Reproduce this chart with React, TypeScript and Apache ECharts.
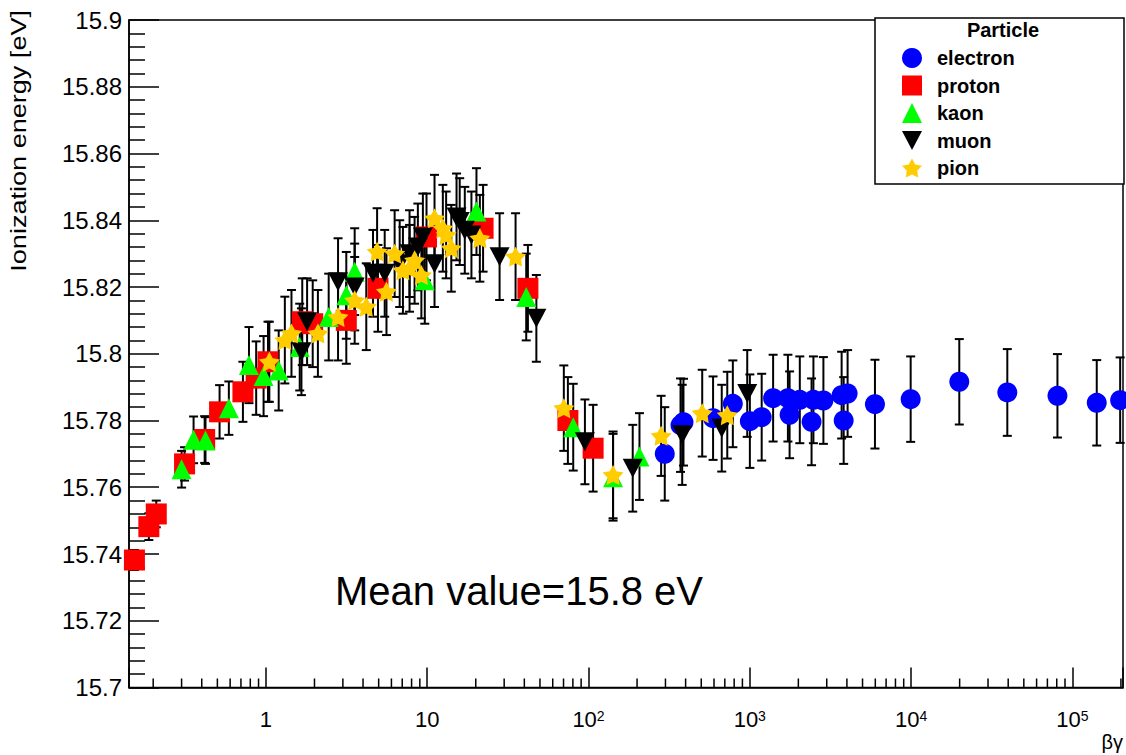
import React, { useEffect, useRef } from 'react';
import * as echarts from 'echarts';

const FONT = '"Liberation Sans", Arial, Helvetica, sans-serif';

// ---- data ----
const ELECTRON_X = [297, 372, 388, 592, 785, 1001, 1185, 1395, 1723, 1765, 2042, 2415, 2480, 2860, 3710, 3820, 4040, 5970, 9940, 19900, 39500, 80800, 141600, 197800];
const ELECTRON_Y = [15.77, 15.7786, 15.7795, 15.7807, 15.785, 15.7798, 15.781, 15.7867, 15.7867, 15.7817, 15.7862, 15.7796, 15.7862, 15.786, 15.7876, 15.78, 15.7881, 15.7849, 15.7864, 15.7916, 15.7884, 15.7874, 15.7853, 15.7861];
const ELECTRON_ERR = [0.014, 0.014, 0.013, 0.0125, 0.013, 0.014, 0.013, 0.013, 0.013, 0.013, 0.013, 0.013, 0.013, 0.013, 0.013, 0.013, 0.013, 0.0133, 0.0128, 0.0128, 0.013, 0.0125, 0.0128, 0.0128];

const PROTON_X = [0.153, 0.188, 0.209, 0.313, 0.417, 0.516, 0.72, 0.87, 1.03, 1.68, 1.95, 3.15, 4.95, 9.9, 22.2, 42.1, 74.5, 106.8];
const PROTON_Y = [15.7382, 15.7482, 15.752, 15.767, 15.7743, 15.7826, 15.7886, 15.7927, 15.7976, 15.8096, 15.809, 15.81, 15.8196, 15.835, 15.8376, 15.8196, 15.78, 15.7717];
const PROTON_ERR = [0.003, 0.004, 0.004, 0.005, 0.007, 0.008, 0.009, 0.011, 0.012, 0.013, 0.013, 0.013, 0.013, 0.013, 0.013, 0.013, 0.013, 0.013];

const KAON_X = [0.3, 0.356, 0.422, 0.589, 0.785, 0.967, 1.2, 1.62, 2.45, 3.15, 3.55, 9.66, 20.2, 41.1, 80.4, 142, 207];
const KAON_Y = [15.7654, 15.7742, 15.774, 15.7837, 15.7966, 15.7933, 15.795, 15.802, 15.811, 15.8175, 15.8246, 15.822, 15.8426, 15.817, 15.778, 15.763, 15.7692];
const KAON_ERR = [0.0055, 0.007, 0.007, 0.008, 0.0114, 0.012, 0.012, 0.013, 0.013, 0.013, 0.013, 0.013, 0.013, 0.013, 0.013, 0.013, 0.013];

const MUON_X = [1.66, 1.8, 2.8, 3.55, 4.61, 5.45, 6.75, 7.77, 8.75, 9.4, 11.1, 15.2, 15.9, 17.1, 18.8, 28.1, 47.5, 95, 188, 381, 670, 964];
const MUON_Y = [15.8006, 15.8096, 15.8216, 15.82, 15.8241, 15.8241, 15.827, 15.83, 15.832, 15.835, 15.827, 15.841, 15.8396, 15.837, 15.8356, 15.8291, 15.8106, 15.7736, 15.7657, 15.7757, 15.7777, 15.7881];
const MUON_ERR = [0.013, 0.013, 0.013, 0.013, 0.013, 0.013, 0.013, 0.013, 0.013, 0.013, 0.013, 0.013, 0.013, 0.013, 0.013, 0.013, 0.013, 0.0127, 0.013, 0.015, 0.013, 0.013];

const PION_X = [1.05, 1.31, 1.44, 2.1, 2.8, 3.55, 4.19, 4.89, 5.59, 6.28, 7.07, 7.77, 8.35, 9.2, 11.1, 12.5, 13.1, 14.1, 21.2, 35.3, 70.3, 142, 282, 507, 725];
const PION_Y = [15.7976, 15.8041, 15.8061, 15.8061, 15.811, 15.816, 15.8141, 15.8306, 15.8186, 15.83, 15.825, 15.8256, 15.828, 15.8236, 15.8406, 15.8376, 15.8356, 15.8316, 15.8346, 15.8291, 15.7837, 15.7637, 15.7754, 15.7822, 15.7816];
const PION_ERR = [0.012, 0.013, 0.013, 0.013, 0.013, 0.013, 0.013, 0.013, 0.013, 0.013, 0.013, 0.013, 0.013, 0.013, 0.013, 0.013, 0.013, 0.013, 0.013, 0.013, 0.0128, 0.013, 0.012, 0.013, 0.013];

const LEGEND_NAMES = ['electron', 'proton', 'kaon', 'muon', 'pion'];
const COLORS = ['#0000ff', '#ff0000', '#00ff00', '#000000', '#ffcc00'];

// axis settings
const X_MIN = 0.1416;
const X_MAX = 206000;
const Y_MIN = 15.7;
const Y_MAX = 15.9;
const Y_STEP = 0.02;
const X_MINOR_TICKS = [
  0.2, 0.3, 0.4, 0.5, 0.6, 0.7, 0.8, 0.9,
  2, 3, 4, 5, 6, 7, 8, 9,
  20, 30, 40, 50, 60, 70, 80, 90,
  200, 300, 400, 500, 600, 700, 800, 900,
  2000, 3000, 4000, 5000, 6000, 7000, 8000, 9000,
  20000, 30000, 40000, 50000, 60000, 70000, 80000, 90000,
  200000,
];

const STAR = 'path://M0,-10L3.056,-4.207L9.511,-3.09L4.945,1.607L5.878,8.09L0,5.2L-5.878,8.09L-4.945,1.607L-9.511,-3.09L-3.056,-4.207Z';
const DOWN_TRI = 'path://M0,0L20,0L10,19Z';

function zip(xs: number[], ys: number[], es: number[]) {
  return xs.map((x, i) => [x, ys[i], es[i]]);
}

const errRender = (_params: any, api: any) => {
  const x = api.value(0);
  const y = api.value(1);
  const e = api.value(2);
  const hi = api.coord([x, y + e]);
  const lo = api.coord([x, y - e]);
  const w = 4.5;
  const style = { stroke: '#000', lineWidth: 2 };
  return {
    type: 'group',
    children: [
      { type: 'line', shape: { x1: hi[0], y1: hi[1], x2: lo[0], y2: lo[1] }, style },
      { type: 'line', shape: { x1: hi[0] - w, y1: hi[1], x2: hi[0] + w, y2: hi[1] }, style },
      { type: 'line', shape: { x1: lo[0] - w, y1: lo[1], x2: lo[0] + w, y2: lo[1] }, style },
    ],
  };
};

const minorRender = (_params: any, api: any) => {
  const c = api.coord([api.value(0), api.value(1)]);
  return {
    type: 'line',
    shape: { x1: c[0], y1: c[1], x2: c[0], y2: c[1] - 9 },
    style: { stroke: '#000', lineWidth: 1.5 },
  };
};

export default function App() {
  const ref = useRef<HTMLDivElement>(null);

  useEffect(() => {
    const chart = echarts.init(ref.current as HTMLDivElement, null, { renderer: 'svg' });

    const groups = [
      { name: 'electron', data: zip(ELECTRON_X, ELECTRON_Y, ELECTRON_ERR), symbol: 'circle', size: 20 },
      { name: 'proton', data: zip(PROTON_X, PROTON_Y, PROTON_ERR), symbol: 'rect', size: 21 },
      { name: 'kaon', data: zip(KAON_X, KAON_Y, KAON_ERR), symbol: 'triangle', size: 20 },
      { name: 'muon', data: zip(MUON_X, MUON_Y, MUON_ERR), symbol: DOWN_TRI, size: 20 },
      { name: 'pion', data: zip(PION_X, PION_Y, PION_ERR), symbol: STAR, size: 21 },
    ];

    const series: any[] = [];
    groups.forEach((g, i) => {
      series.push({
        type: 'custom',
        silent: true,
        renderItem: errRender,
        data: g.data,
        encode: { x: 0, y: 1 },
        z: 2,
      });
      series.push({
        name: g.name,
        type: 'scatter',
        symbol: g.symbol,
        symbolSize: g.size,
        symbolKeepAspect: true,
        itemStyle: { color: COLORS[i], opacity: 1 },
        data: g.data.map((d) => [d[0], d[1]]),
        z: 2,
      });
    });
    series.push({
      type: 'custom',
      silent: true,
      renderItem: minorRender,
      data: X_MINOR_TICKS.map((v) => [v, Y_MIN]),
      encode: { x: 0, y: 1 },
      z: 5,
    });

    const xFmt = (v: number) => {
      const l = Math.log10(v);
      const e = Math.round(l);
      if (Math.abs(l - e) > 1e-6) return '';
      if (e === 0) return '1';
      if (e === 1) return '10';
      return '10{sup|' + e + '}';
    };

    const option: any = {
      animation: false,
      backgroundColor: '#ffffff',
      textStyle: { fontFamily: FONT },
      grid: {
        left: 129,
        right: 3,
        top: 20,
        bottom: 67.5,
        show: true,
        borderColor: '#000',
        borderWidth: 1.5,
        backgroundColor: 'transparent',
      },
      xAxis: {
        type: 'log',
        logBase: 10,
        min: X_MIN,
        max: X_MAX,
        axisLine: { show: true, onZero: false, lineStyle: { color: '#000', width: 1.5 } },
        axisTick: { show: true, inside: true, length: 20, lineStyle: { color: '#000', width: 1.5 } },
        minorTick: { show: false },
        splitLine: { show: false },
        axisLabel: {
          formatter: xFmt,
          margin: 21,
          fontSize: 22,
          fontFamily: FONT,
          color: '#000',
          rich: {
            sup: { fontSize: 14, fontFamily: FONT, color: '#000', verticalAlign: 'top' },
          },
        },
      },
      yAxis: {
        type: 'value',
        min: Y_MIN,
        max: Y_MAX,
        interval: Y_STEP,
        axisLine: { show: true, onZero: false, lineStyle: { color: '#000', width: 1.5 } },
        axisTick: { show: true, inside: true, length: 30, lineStyle: { color: '#000', width: 1.5 } },
        minorTick: { show: true, splitNumber: 5, length: 16, lineStyle: { color: '#000', width: 1.5 } },
        splitLine: { show: false },
        minorSplitLine: { show: false },
        axisLabel: { fontSize: 24, margin: 7, fontFamily: FONT, color: '#000' },
      },
      legend: {
        orient: 'vertical',
        left: 897,
        top: 43,
        itemWidth: 20,
        itemHeight: 20,
        itemGap: 7.5,
        selectedMode: false,
        data: LEGEND_NAMES,
        textStyle: {
          fontFamily: FONT,
          fontSize: 20,
          fontWeight: 'bold',
          color: '#000',
          lineHeight: 20,
          padding: [0, 0, 0, 10],
        },
        z: 6,
      },
      graphic: [
        {
          type: 'rect',
          z: 4,
          shape: { x: 875, y: 18, width: 249, height: 166 },
          style: { fill: '#fff', stroke: '#000', lineWidth: 1.5 },
        },
        {
          type: 'text',
          z: 7,
          x: 1003,
          y: 30,
          style: {
            text: 'Particle',
            fontFamily: FONT,
            fontSize: 20,
            fontWeight: 'bold',
            fill: '#000',
            align: 'center',
            verticalAlign: 'middle',
            textAlign: 'center',
            textVerticalAlign: 'middle',
          },
        },
        {
          type: 'text',
          z: 7,
          x: 335,
          y: 591,
          style: {
            text: 'Mean value=15.8 eV',
            fontFamily: FONT,
            fontSize: 40,
            fill: '#000',
            align: 'left',
            verticalAlign: 'middle',
            textAlign: 'left',
            textVerticalAlign: 'middle',
          },
        },
        {
          type: 'text',
          z: 7,
          x: 18,
          y: 10,
          rotation: Math.PI / 2,
          scaleX: 1.23,
          style: {
            text: 'Ionization energy [eV]',
            fontFamily: FONT,
            fontSize: 22,
            fill: '#000',
            align: 'right',
            verticalAlign: 'middle',
            textAlign: 'right',
            textVerticalAlign: 'middle',
          },
        },
        {
          type: 'text',
          z: 7,
          x: 1123,
          y: 742,
          style: {
            text: 'βγ',
            fontFamily: FONT,
            fontSize: 20,
            fill: '#000',
            align: 'right',
            verticalAlign: 'middle',
            textAlign: 'right',
            textVerticalAlign: 'middle',
          },
        },
      ],
      series,
    };

    chart.setOption(option);
    return () => chart.dispose();
  }, []);

  return (
    <div
      ref={ref}
      style={{ position: 'fixed', left: 0, top: 0, width: 1126, height: 755, background: '#fff' }}
    />
  );
}
